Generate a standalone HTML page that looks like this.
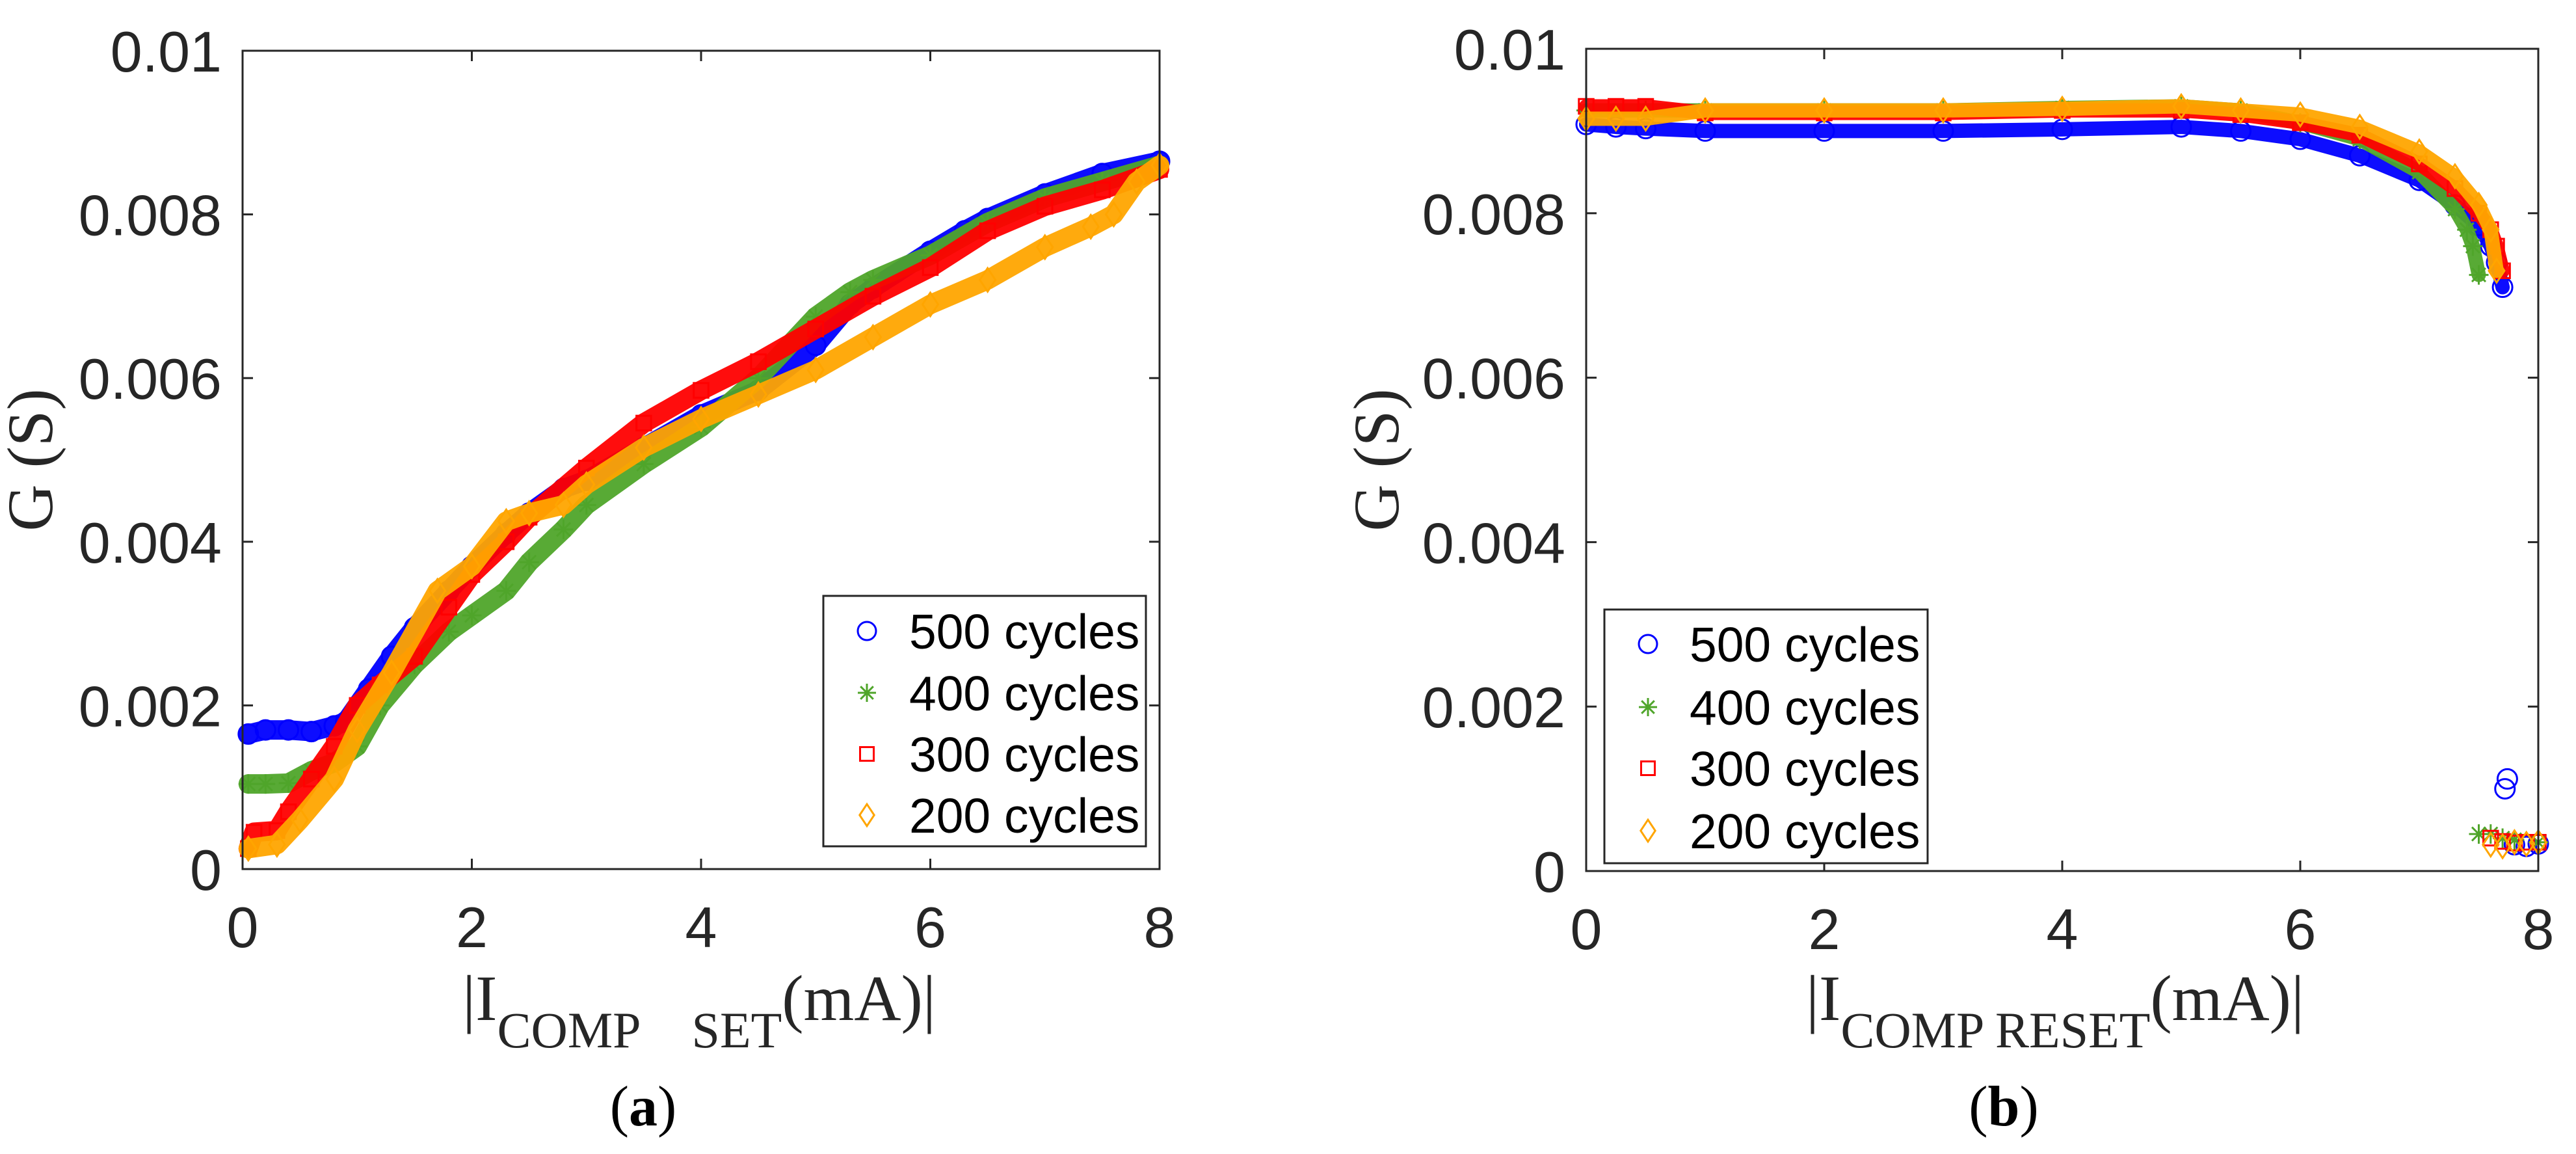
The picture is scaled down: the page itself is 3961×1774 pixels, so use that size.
<!DOCTYPE html>
<html><head><meta charset="utf-8"><style>
html,body{margin:0;padding:0;background:#fff;}
svg{display:block;}
</style></head>
<body>
<svg id="fig" width="3961" height="1774" viewBox="0 0 3961 1774" xmlns="http://www.w3.org/2000/svg"></svg>
<script>
// ---------- data (G in mS) ----------
const xTicks = [0, 2, 4, 6, 8];
const yTicks = [0, 0.002, 0.004, 0.006, 0.008, 0.01];
const yTickLabels = ["0", "0.002", "0.004", "0.006", "0.008", "0.01"];
const seriesNames = ["500 cycles", "400 cycles", "300 cycles", "200 cycles"];

// panel (a)
const a500x = [0.05,0.2,0.4,0.6,0.8,0.9,1.1,1.3,1.5,1.8,2.0,2.3,2.5,2.8,3.0,3.5,4.0,4.5,5.0,5.3,5.5,6.0,6.3,6.5,7.0,7.5,8.0];
const a500y = [1.65,1.7,1.7,1.68,1.75,1.8,2.2,2.6,2.95,3.4,3.7,4.1,4.35,4.65,4.75,5.15,5.55,5.85,6.4,6.9,7.1,7.55,7.8,7.95,8.25,8.5,8.65];
const a400x = [0.05,0.2,0.4,0.6,0.8,1.0,1.2,1.5,1.8,2.0,2.3,2.5,2.8,3.0,3.5,4.0,4.5,5.0,5.3,5.5,6.0,6.5,7.0,7.5,8.0];
const a400y = [1.04,1.04,1.05,1.2,1.3,1.5,2.0,2.5,2.9,3.1,3.4,3.75,4.15,4.45,4.95,5.4,6.0,6.75,7.05,7.2,7.5,7.9,8.2,8.4,8.6];
const a300x = [0.05,0.1,0.3,0.4,0.6,0.8,1.0,1.2,1.5,1.8,2.0,2.3,2.5,3.0,3.5,4.0,4.5,5.0,5.5,6.0,6.5,7.0,7.5,8.0];
const a300y = [0.25,0.45,0.47,0.7,1.1,1.5,2.0,2.25,2.6,3.2,3.6,4.0,4.3,4.9,5.45,5.85,6.2,6.6,7.0,7.35,7.8,8.1,8.3,8.55];
const a200x = [0.05,0.3,0.5,0.8,1.0,1.3,1.7,2.0,2.3,2.5,2.8,3.0,3.5,4.0,4.5,5.0,5.5,6.0,6.5,7.0,7.4,7.6,7.8,8.0];
const a200y = [0.25,0.3,0.6,1.1,1.7,2.4,3.4,3.7,4.25,4.35,4.45,4.7,5.15,5.5,5.8,6.1,6.5,6.9,7.2,7.6,7.85,8.0,8.4,8.6];

// panel (b) — upper branch and low tail
const b500x = [0.0,0.25,0.5,1.0,2.0,3.0,4.0,5.0,5.5,6.0,6.5,7.0,7.3,7.5,7.6,7.65,7.7];
const b500y = [9.08,9.05,9.03,9.0,9.0,9.0,9.02,9.05,9.0,8.9,8.7,8.4,8.1,7.85,7.6,7.4,7.1];
const b500tx = [7.72,7.74,7.8,7.9,8.0];
const b500ty = [1.0,1.12,0.32,0.3,0.33];
const b400x = [0.0,0.5,1.0,2.0,3.0,4.0,5.0,5.5,6.0,6.5,7.0,7.3,7.4,7.45,7.5];
const b400y = [9.25,9.25,9.25,9.25,9.25,9.28,9.3,9.25,9.1,8.9,8.5,8.05,7.8,7.6,7.25];
const b400tx = [7.5,7.6,7.7,7.8,8.0];
const b400ty = [0.45,0.45,0.4,0.38,0.35];
const b300x = [0.0,0.25,0.5,1.0,2.0,3.0,4.0,5.0,5.5,6.0,6.5,7.0,7.3,7.5,7.6,7.65,7.7];
const b300y = [9.3,9.3,9.3,9.22,9.22,9.22,9.25,9.25,9.2,9.1,8.95,8.6,8.3,8.0,7.8,7.6,7.3];
const b300tx = [7.6,7.7,7.8,7.9,8.0];
const b300ty = [0.4,0.36,0.34,0.35,0.35];
const b200x = [0.0,0.25,0.5,1.0,2.0,3.0,4.0,5.0,5.5,6.0,6.5,7.0,7.3,7.5,7.6,7.65];
const b200y = [9.15,9.15,9.15,9.25,9.25,9.25,9.27,9.3,9.25,9.2,9.05,8.75,8.45,8.1,7.8,7.3];
const b200tx = [7.6,7.7,7.8,7.9,8.0];
const b200ty = [0.32,0.3,0.35,0.33,0.35];

// ---------- drawing ----------
const NS = "http://www.w3.org/2000/svg";
const svg = document.getElementById("fig");
const colors = ["#0000ff", "#4fa52a", "#ff0000", "#ffa500"];
const markers = ["circle", "star", "square", "diamond"];

function mk(tag, attrs, parent) {
  const e = document.createElementNS(NS, tag);
  for (const k in attrs) e.setAttribute(k, attrs[k]);
  (parent || svg).appendChild(e);
  return e;
}

function drawMarker(g, type, cx, cy, color, s) {
  let e;
  if (type === "circle") {
    e = mk("circle", {cx: cx, cy: cy, r: s, fill: "none", stroke: color, "stroke-width": 3}, g);
  } else if (type === "square") {
    e = mk("rect", {x: cx - s * 0.75, y: cy - s * 0.75, width: s * 1.5, height: s * 1.5, fill: "none", stroke: color, "stroke-width": 3}, g);
  } else if (type === "diamond") {
    e = mk("polygon", {points: `${cx},${cy - s * 1.2} ${cx + s * 0.8},${cy} ${cx},${cy + s * 1.2} ${cx - s * 0.8},${cy}`, fill: "none", stroke: color, "stroke-width": 3}, g);
  } else {
    const d = `M${cx - s},${cy}H${cx + s}M${cx},${cy - s}V${cy + s}M${cx - s * 0.7},${cy - s * 0.7}L${cx + s * 0.7},${cy + s * 0.7}M${cx - s * 0.7},${cy + s * 0.7}L${cx + s * 0.7},${cy - s * 0.7}`;
    e = mk("path", {d: d, stroke: color, "stroke-width": 3, fill: "none"}, g);
  }
  return e;
}

function panel(P) {
  const g = mk("g", {});
  
  
  const sx = v => P.x0 + (v - 0) / 8 * (P.x1 - P.x0);
  const sy = v => P.y1 - v / 0.01 * (P.y1 - P.y0);

  P.series.forEach((s, i) => {
    const sg = mk("g", {}, g);
    
    
    const pts = s.x.map((v, j) => sx(v) + "," + sy(s.y[j] / 1000)).join(" ");
    const band = mk("polyline", {points: pts, fill: "none", stroke: colors[i], "stroke-width": P.band, "stroke-linejoin": "round", "stroke-linecap": "round", opacity: 0.95}, sg);
    
    
    s.x.forEach((v, j) => {
      const m = drawMarker(sg, markers[i], sx(v), sy(s.y[j] / 1000), colors[i], 15);
      
      
    });
    if (s.tx) {
      s.tx.forEach((v, j) => {
        const m = drawMarker(sg, markers[i], sx(v), sy(s.ty[j] / 1000), colors[i], 15);
        
        
      });
    }
  });

  const box = mk("rect", {x: P.x0, y: P.y0, width: P.x1 - P.x0, height: P.y1 - P.y0, fill: "none", stroke: "#262626", "stroke-width": 3}, g);
  
  

  xTicks.forEach(t => {
    const x = sx(t);
    mk("line", {x1: x, y1: P.y1, x2: x, y2: P.y1 - 16, stroke: "#262626", "stroke-width": 3}, g);
    mk("line", {x1: x, y1: P.y0, x2: x, y2: P.y0 + 16, stroke: "#262626", "stroke-width": 3}, g);
    const tl = mk("text", {x: x, y: P.y1 + 120, "text-anchor": "middle", "font-family": "Liberation Sans, Arial, sans-serif", "font-size": 88, fill: "#262626"}, g);
    tl.textContent = String(t);
    
    
  });
  yTicks.forEach((t, i) => {
    const y = sy(t);
    mk("line", {x1: P.x0, y1: y, x2: P.x0 + 16, y2: y, stroke: "#262626", "stroke-width": 3}, g);
    mk("line", {x1: P.x1, y1: y, x2: P.x1 - 16, y2: y, stroke: "#262626", "stroke-width": 3}, g);
    const tl = mk("text", {x: P.x0 - 32, y: y + 32, "text-anchor": "end", "font-family": "Liberation Sans, Arial, sans-serif", "font-size": 88, fill: "#262626"}, g);
    tl.textContent = yTickLabels[i];
    
    
  });

  const yl = mk("text", {x: 0, y: 0, transform: `translate(${P.ylx},${(P.y0 + P.y1) / 2}) rotate(-90)`, "text-anchor": "middle", "font-family": "Liberation Serif, Times New Roman, serif", "font-size": 100, fill: "#262626"}, g);
  yl.textContent = "G (S)";
  
  

  const xl = mk("text", {x: P.xlx, y: 1568, "text-anchor": "middle", "font-family": "Liberation Serif, Times New Roman, serif", "font-size": 100, fill: "#262626"}, g);
  
  
  const t1 = mk("tspan", {}, xl); t1.textContent = "|I";
  const t2 = mk("tspan", {dy: 42, "font-size": 78}, xl); t2.textContent = P.sub;
  const t3 = mk("tspan", {dy: -42}, xl); t3.textContent = "(mA)|";

  const pl = mk("text", {x: P.lx, y: 1730, "text-anchor": "middle", "font-family": "Liberation Serif, Times New Roman, serif", "font-size": 88, fill: "#000"}, g);
  
  
  const p1 = mk("tspan", {}, pl); p1.textContent = "(";
  const p2 = mk("tspan", {"font-weight": "bold"}, pl); p2.textContent = P.letter;
  const p3 = mk("tspan", {}, pl); p3.textContent = ")";

  const L = P.legend;
  const lg = mk("g", {}, g);
  
  
  mk("rect", {x: L.x0, y: L.y0, width: L.x1 - L.x0, height: L.y1 - L.y0, fill: "#fff", stroke: "#262626", "stroke-width": 3}, lg);
  seriesNames.forEach((n, i) => {
    const y = L.rows[i];
    const m = drawMarker(lg, markers[i], L.mx, y, colors[i], 14);
    
    
    const tx = mk("text", {x: L.tx, y: y + 27, "font-family": "Liberation Sans, Arial, sans-serif", "font-size": 75, fill: "#000"}, lg);
    tx.textContent = n;
    
    
  });
}

panel({
  name: "panel-a", x0: 373, x1: 1783, y0: 78, y1: 1336, band: 30,
  series: [{x: a500x, y: a500y}, {x: a400x, y: a400y}, {x: a300x, y: a300y}, {x: a200x, y: a200y}],
  ylx: 80, xlx: 1075, sub: "COMP\u00a0\u00a0\u00a0\u00a0SET", lx: 989, letter: "a",
  legend: {x0: 1266, x1: 1762, y0: 916, y1: 1301, mx: 1333, tx: 1398, rows: [970, 1065, 1159, 1253]}
});
panel({
  name: "panel-b", x0: 2439, x1: 3903, y0: 75, y1: 1339, band: 22,
  series: [{x: b500x, y: b500y, tx: b500tx, ty: b500ty}, {x: b400x, y: b400y, tx: b400tx, ty: b400ty}, {x: b300x, y: b300y, tx: b300tx, ty: b300ty}, {x: b200x, y: b200y, tx: b200tx, ty: b200ty}],
  ylx: 2150, xlx: 3160, sub: "COMP RESET", lx: 3081, letter: "b",
  legend: {x0: 2467, x1: 2964, y0: 937, y1: 1327, mx: 2534, tx: 2598, rows: [990, 1087, 1181, 1277]}
});
</script>
</body></html>
